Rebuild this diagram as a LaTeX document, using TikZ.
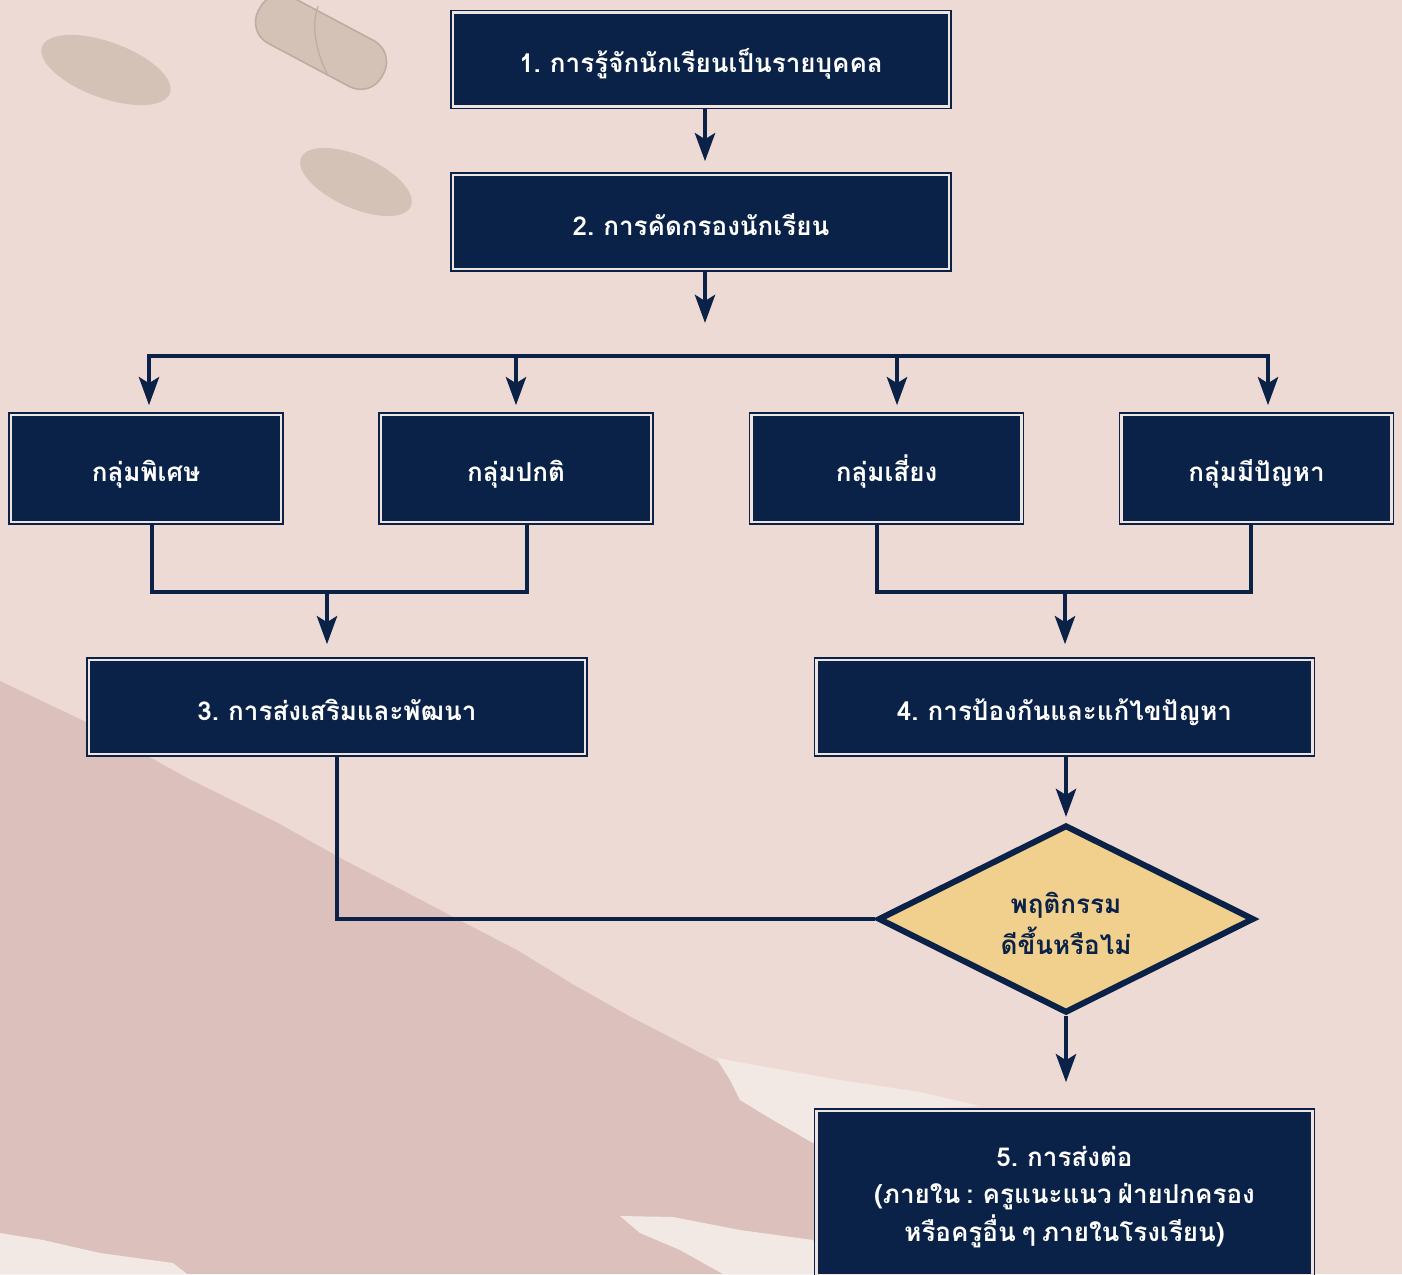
\documentclass[tikz,border=0pt]{standalone}
\usepackage{fontspec}
\newfontfamily\thai[Script=Thai,WordSpace=0.7]{Loma}
\usetikzlibrary{arrows.meta,shapes.geometric,backgrounds}
\definecolor{navy}{RGB}{10,33,72}
\definecolor{bgpink}{RGB}{237,218,212}
\definecolor{darkpink}{RGB}{219,192,188}
\definecolor{whitish}{RGB}{242,233,228}
\definecolor{boxgap}{RGB}{240,228,224}
\definecolor{gold}{RGB}{240,208,140}
\definecolor{stone}{RGB}{213,194,182}
\definecolor{stoneedge}{RGB}{190,172,160}
\tikzset{
  box/.style={fill=navy, draw=navy, double=boxgap, double distance=1.3pt, line width=0.75pt,
    text=white, font=\thai\bfseries\fontsize{13}{18.5}\selectfont, align=center, inner sep=0pt},
  oneline/.style={text height=13.2pt, text depth=0pt},
  bigbox/.style={box, oneline, minimum width=248pt, minimum height=47pt},
  grpbox/.style={box, oneline, minimum width=135pt, minimum height=53.5pt},
  decision/.style={diamond, shape aspect=2, draw=navy, line width=3pt, fill=gold, text=navy, inner sep=-15pt,
    minimum width=188pt, minimum height=94pt,
    font=\thai\bfseries\fontsize{13}{20.5}\selectfont},
  ln/.style={draw=navy, line width=2.4pt},
  arr/.style={ln, -{Stealth[length=14pt,width=10pt,inset=3pt]}},
}
\begin{document}
\begin{tikzpicture}[x=0.5pt,y=-0.5pt]
\useasboundingbox (0,0) rectangle (1402,1274);
\begin{scope}[on background layer]
  \fill[bgpink] (0,0) rectangle (1402,1274);
  \fill[darkpink] (0,681) -- (86,722) -- (189,779) -- (276,822) -- (344,860) -- (402,890)
    -- (459,920) -- (517,950) -- (574,985) -- (631,1017) -- (718,1062) -- (730,1080)
    -- (740,1100) -- (773,1120) -- (813,1143) -- (900,1180) -- (900,1274) -- (0,1274) -- cycle;
  \fill[whitish] (717,1058) -- (760,1066) -- (840,1080) -- (920,1092) -- (980,1106)
    -- (900,1110) -- (813,1143) -- (773,1120) -- (740,1100) -- (730,1080) -- cycle;
  \fill[whitish] (620,1216) -- (673,1217) -- (740,1230) -- (813,1240) -- (830,1274)
    -- (723,1274) -- (680,1250) -- (640,1233) -- cycle;
  \fill[whitish] (0,1233) -- (43,1240) -- (100,1253) -- (173,1263) -- (187,1274) -- (0,1274) -- cycle;
  % stones
  \fill[stone, rotate around={-20:(106,70)}] (106,70) ellipse [x radius=34pt, y radius=14pt];
  \filldraw[fill=stone, draw=stoneedge, line width=0.8pt, rounded corners=12pt, rotate around={-28:(321,42)}]
    (251,16) rectangle (391,68);
  \draw[stoneedge, line width=0.6pt] (318,6) .. controls (310,30) and (318,55) .. (328,76);
  \fill[stone, rotate around={-24:(356,182)}] (356,182) ellipse [x radius=30pt, y radius=13pt];
\end{scope}

\node[bigbox] (b1) at (701,59.5) {1. การรู้จักนักเรียนเป็นรายบุคคล};
\node[bigbox] (b2) at (701,222) {2. การคัดกรองนักเรียน};
\node[grpbox] (g1) at (146,468.5) {กลุ่มพิเศษ};
\node[grpbox] (g2) at (516,468.5) {กลุ่มปกติ};
\node[grpbox] (g3) at (886.5,468.5) {กลุ่มเสี่ยง};
\node[grpbox] (g4) at (1256.5,468.5) {กลุ่มมีปัญหา};
\node[bigbox] (b3) at (337,707) {3. การส่งเสริมและพัฒนา};
\node[bigbox] (b4) at (1064.5,707) {4. การป้องกันและแก้ไขปัญหา};
\node[decision] (d) at (1066,919)
  {\raisebox{-3.5pt}[\height][\depth]{\begin{tabular}{@{}c@{}}พฤติกรรม\\ดีขึ้นหรือไม่\end{tabular}}};
\node[box, minimum width=248pt, minimum height=82pt] (b5) at (1064.5,1193)
  {\raisebox{-2pt}[\height][\depth]{\begin{tabular}{@{}c@{}}5. การส่งต่อ\\(ภายใน : ครูแนะแนว ฝ่ายปกครอง\\หรือครูอื่น ๆ ภายในโรงเรียน)\end{tabular}}};

\coordinate (j0) at (705,323);
\coordinate (bL) at (149,356);
\coordinate (bR) at (1268,356);
\coordinate (bx2) at (516,356);
\coordinate (bx3) at (897,356);
\coordinate (m1) at (152,592);
\coordinate (m2) at (527,592);
\coordinate (m12) at (327,592);
\coordinate (m3) at (877,592);
\coordinate (m4) at (1251,592);
\coordinate (m34) at (1065,592);
\coordinate (t1) at (705,109);

\begin{scope}[on background layer]
  \draw[arr, shorten >=6.5pt] (t1) -- (t1 |- b2.north);
  \draw[arr] (b2.south -| j0) -- (j0);
  \draw[arr, shorten >=4.5pt] (bx2) -- (bL) -- (bL |- g1.north);
  \draw[arr, shorten >=4.5pt] (bx2) -- (bR) -- (bR |- g4.north);
  \draw[arr, shorten >=4.5pt] (bx2) -- (bx2 |- g2.north);
  \draw[arr, shorten >=4.5pt] (bx3) -- (bx3 |- g3.north);
  \draw[ln] (m1 |- g1.south) -- (m1) -- (m2) -- (m2 |- g2.south);
  \draw[arr, shorten >=7.5pt] (m12) -- (m12 |- b3.north);
  \draw[ln] (m3 |- g3.south) -- (m3) -- (m4) -- (m4 |- g4.south);
  \draw[arr, shorten >=7.5pt] (m34) -- (m34 |- b4.north);
  \draw[ln] (b3.south) -- (b3.south |- d.west) -- (d.west);
  \draw[arr, shorten >=2.5pt] (b4.south -| d.north) -- (d.north);
  \draw[arr, shorten >=14pt] (d.south) -- (d.south |- b5.north);
\end{scope}
\end{tikzpicture}
\end{document}
